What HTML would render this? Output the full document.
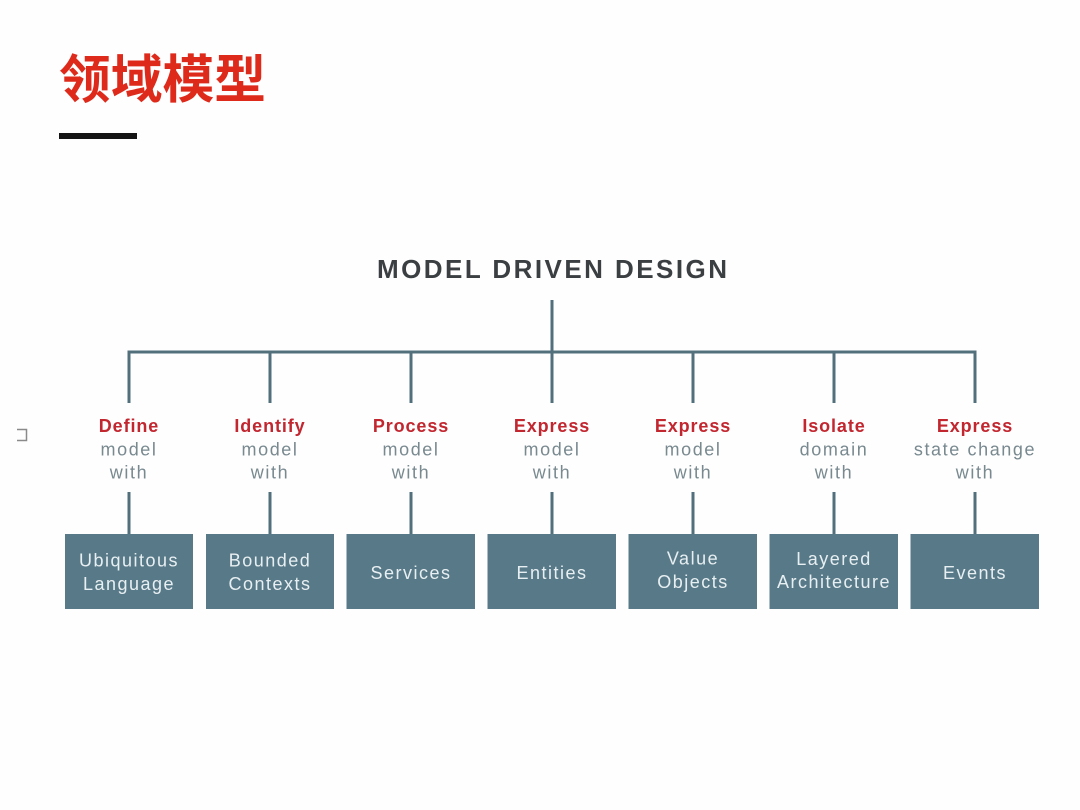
<!DOCTYPE html>
<html>
<head>
<meta charset="utf-8">
<style>
  html, body { margin:0; padding:0; background:#fefefe; }
  body { width:1080px; height:810px; overflow:hidden; }
  svg { display:block; }
  .hd { font-family:"Liberation Sans","Noto Sans CJK SC",sans-serif; font-weight:bold; font-size:52px; fill:#de2a1b; }
  .ttl { font-family:"Liberation Sans",sans-serif; font-weight:bold; font-size:26px; fill:#3b3f42; }
  .red { font-family:"Liberation Sans",sans-serif; font-weight:bold; font-size:18px; fill:#c2262f; letter-spacing:0.9px; }
  .gry { font-family:"Liberation Sans",sans-serif; font-size:18px; fill:#78898f; letter-spacing:1.6px; }
  .bx { font-family:"Liberation Sans",sans-serif; font-size:18px; fill:#e8eff2; letter-spacing:1.5px; }
</style>
</head>
<body>
<svg width="1080" height="810" viewBox="0 0 1080 810" xmlns="http://www.w3.org/2000/svg">
  <rect x="0" y="0" width="1080" height="810" fill="#fefefe"/>
  <!-- Heading -->
  <text class="hd" x="59" y="98" textLength="207" lengthAdjust="spacingAndGlyphs">领域模型</text>
  <rect x="59" y="133" width="78" height="6" fill="#141414"/>
  <!-- small glyph -->
  <path d="M17 429.5 H26.5 V440.5 H17" fill="none" stroke="#8a8a8a" stroke-width="1.5"/>

  <!-- Title -->
  <text class="ttl" x="377" y="278" textLength="350" lengthAdjust="spacing">MODEL DRIVEN DESIGN</text>

  <!-- connectors -->
  <g stroke="#52707c" stroke-width="3" fill="none">
    <line x1="552" y1="300" x2="552" y2="352"/>
    <line x1="127.5" y1="352" x2="976.5" y2="352"/>
    <line x1="129" y1="352" x2="129" y2="403"/>
    <line x1="270" y1="352" x2="270" y2="403"/>
    <line x1="411" y1="352" x2="411" y2="403"/>
    <line x1="552" y1="352" x2="552" y2="403"/>
    <line x1="693" y1="352" x2="693" y2="403"/>
    <line x1="834" y1="352" x2="834" y2="403"/>
    <line x1="975" y1="352" x2="975" y2="403"/>

    <line x1="129" y1="492" x2="129" y2="535"/>
    <line x1="270" y1="492" x2="270" y2="535"/>
    <line x1="411" y1="492" x2="411" y2="535"/>
    <line x1="552" y1="492" x2="552" y2="535"/>
    <line x1="693" y1="492" x2="693" y2="535"/>
    <line x1="834" y1="492" x2="834" y2="535"/>
    <line x1="975" y1="492" x2="975" y2="535"/>
  </g>

  <!-- labels -->
  <g text-anchor="middle">
    <text class="red" x="129" y="432">Define</text>
    <text class="gry" x="129" y="455.5">model</text>
    <text class="gry" x="129" y="478.5">with</text>

    <text class="red" x="270" y="432">Identify</text>
    <text class="gry" x="270" y="455.5">model</text>
    <text class="gry" x="270" y="478.5">with</text>

    <text class="red" x="411" y="432">Process</text>
    <text class="gry" x="411" y="455.5">model</text>
    <text class="gry" x="411" y="478.5">with</text>

    <text class="red" x="552" y="432">Express</text>
    <text class="gry" x="552" y="455.5">model</text>
    <text class="gry" x="552" y="478.5">with</text>

    <text class="red" x="693" y="432">Express</text>
    <text class="gry" x="693" y="455.5">model</text>
    <text class="gry" x="693" y="478.5">with</text>

    <text class="red" x="834" y="432">Isolate</text>
    <text class="gry" x="834" y="455.5">domain</text>
    <text class="gry" x="834" y="478.5">with</text>

    <text class="red" x="975" y="432">Express</text>
    <text class="gry" x="975" y="455.5">state change</text>
    <text class="gry" x="975" y="478.5">with</text>
  </g>

  <!-- boxes -->
  <g fill="#587a88">
    <rect x="65" y="534" width="128" height="75"/>
    <rect x="206" y="534" width="128" height="75"/>
    <rect x="346.5" y="534" width="128.5" height="75"/>
    <rect x="487.5" y="534" width="128.5" height="75"/>
    <rect x="628.5" y="534" width="128.5" height="75"/>
    <rect x="769.5" y="534" width="128.5" height="75"/>
    <rect x="910.5" y="534" width="128.5" height="75"/>
  </g>
  <g text-anchor="middle">
    <text class="bx" x="129" y="566.5">Ubiquitous</text>
    <text class="bx" x="129" y="590">Language</text>

    <text class="bx" x="270" y="566.5">Bounded</text>
    <text class="bx" x="270" y="590">Contexts</text>

    <text class="bx" x="411" y="579">Services</text>

    <text class="bx" x="552" y="579">Entities</text>

    <text class="bx" x="693" y="564.5">Value</text>
    <text class="bx" x="693" y="588">Objects</text>

    <text class="bx" x="834" y="565">Layered</text>
    <text class="bx" x="834" y="588">Architecture</text>

    <text class="bx" x="975" y="579">Events</text>
  </g>
</svg>
</body>
</html>
